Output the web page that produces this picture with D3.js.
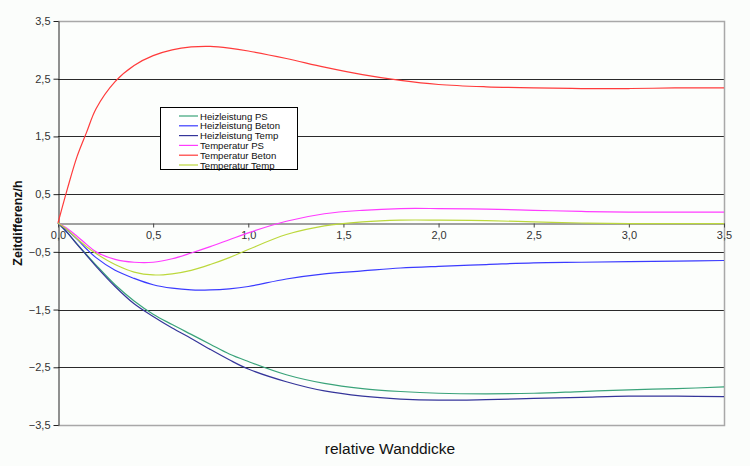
<!DOCTYPE html>
<html><head><meta charset="utf-8">
<script src="https://cdn.jsdelivr.net/npm/d3@7"></script>
<style>
html,body{margin:0;padding:0;background:#fbfdfb;}
svg{display:block;font-family:"Liberation Sans",Arial,sans-serif;}
</style></head>
<body>
<svg id="c" width="750" height="466"></svg>
<script>
const xValues = [0,0.05,0.1,0.15,0.2,0.3,0.4,0.5,0.6,0.7,0.8,0.9,1.0,1.2,1.4,1.6,1.8,2.0,2.25,2.5,2.75,3.0,3.25,3.5];
const heizPS    = [0,-0.17,-0.36,-0.55,-0.73,-1.07,-1.35,-1.58,-1.76,-1.93,-2.1,-2.27,-2.4,-2.63,-2.78,-2.87,-2.92,-2.95,-2.96,-2.95,-2.92,-2.89,-2.87,-2.84];
const heizBeton = [0,-0.13,-0.28,-0.45,-0.6,-0.82,-0.96,-1.07,-1.13,-1.16,-1.16,-1.14,-1.1,-0.97,-0.88,-0.83,-0.78,-0.75,-0.72,-0.69,-0.68,-0.67,-0.66,-0.65];
const heizTemp  = [0,-0.17,-0.37,-0.56,-0.75,-1.1,-1.4,-1.62,-1.82,-2.0,-2.19,-2.37,-2.53,-2.75,-2.91,-3.0,-3.05,-3.07,-3.06,-3.04,-3.02,-3.0,-3.0,-3.01];
const tempPS    = [0,-0.1,-0.23,-0.37,-0.5,-0.63,-0.68,-0.68,-0.62,-0.52,-0.41,-0.29,-0.17,0.03,0.16,0.22,0.25,0.25,0.24,0.22,0.2,0.19,0.19,0.19];
const tempBeton = [0,0.6,1.15,1.57,1.98,2.45,2.73,2.9,3.0,3.05,3.06,3.03,2.98,2.85,2.7,2.57,2.47,2.4,2.36,2.34,2.33,2.33,2.34,2.34];
const tempTemp  = [0,-0.12,-0.27,-0.41,-0.53,-0.72,-0.85,-0.9,-0.88,-0.82,-0.72,-0.6,-0.46,-0.2,-0.05,0.02,0.05,0.05,0.04,0.02,0.0,-0.01,-0.01,-0.01];
const seriesNames = ["Heizleistung PS","Heizleistung Beton","Heizleistung Temp","Temperatur PS","Temperatur Beton","Temperatur Temp"];
const seriesColors = ["#3aa37a","#3b3bff","#35359a","#ff3cff","#ff3b3b","#bcd83c"];
const seriesValues = [heizPS,heizBeton,heizTemp,tempPS,tempBeton,tempTemp];
const xTicks = [0,0.5,1.0,1.5,2.0,2.5,3.0,3.5];
const yTicks = [3.5,2.5,1.5,0.5,-0.5,-1.5,-2.5,-3.5];
const yGrid = [2.5,1.5,0.5,-0.5,-1.5,-2.5];
const xTitle = "relative Wanddicke";
const yTitle = "Zeitdifferenz/h";

const svg = d3.select("#c");
const L=58, R=724, T=21, B=425;
const x = d3.scaleLinear().domain([0,3.5]).range([L,R]);
const y = d3.scaleLinear().domain([-3.5,3.5]).range([B,T]);
const fmt = v => d3.format(".1f")(v).replace(".",",");

// plot frame
svg.append("rect").attr("x",L).attr("y",T).attr("width",R-L).attr("height",B-T).attr("fill","#fcfefc");
// gridlines
svg.append("g").selectAll("line").data(yGrid).join("line")
  .attr("x1",L).attr("x2",R).attr("y1",d=>Math.round(y(d))+0.5).attr("y2",d=>Math.round(y(d))+0.5)
  .attr("stroke","#2a2a2a").attr("stroke-width",1);
// gray frame top/right/bottom
svg.append("path").attr("d",`M${L},${T+0.5}H${R+0.5}V${B+0.5}H${L}`).attr("fill","none").attr("stroke","#a8a8a8").attr("stroke-width",1.5);

// y axis
const yAxis = d3.axisLeft(y).tickValues(yTicks).tickFormat(fmt).tickSize(5).tickSizeOuter(0);
const gy = svg.append("g").attr("transform",`translate(${L+0.5},0)`).call(yAxis);
gy.select(".domain").attr("stroke","#222");
gy.selectAll(".tick line").attr("stroke","#222");
gy.selectAll(".tick text").attr("font-size","11px").attr("fill","#333").attr("x",-8)
  .attr("font-family","'Liberation Sans',Arial,sans-serif");

// x axis at zero
const xAxis = d3.axisBottom(x).tickValues(xTicks).tickFormat(fmt).tickSize(4).tickSizeOuter(0);
const gx = svg.append("g").attr("transform",`translate(0,${Math.round(y(0))+0.5})`).call(xAxis);
gx.select(".domain").attr("stroke","#444");
gx.selectAll(".tick line").attr("stroke","#444");
gx.selectAll(".tick text").attr("font-size","11px").attr("fill","#333").attr("dy","0.9em").attr("y",6)
  .attr("font-family","'Liberation Sans',Arial,sans-serif");

// lines
const line = d3.line().x((d,i)=>x(xValues[i])).y(d=>y(d)).curve(d3.curveCatmullRom.alpha(0.5));
svg.append("g").selectAll("path").data(seriesValues).join("path")
  .attr("d",d=>line(d)).attr("fill","none")
  .attr("stroke",(d,i)=>seriesColors[i]).attr("stroke-width",1.2);

// legend
const lg = svg.append("g");
lg.append("rect").attr("x",160.5).attr("y",107.5).attr("width",137).attr("height",62)
  .attr("fill","#ffffff").attr("stroke","#000").attr("stroke-width",1);
seriesNames.forEach((n,i)=>{
  const yy = 116 + i*9.8;
  lg.append("line").attr("x1",179).attr("x2",198).attr("y1",yy).attr("y2",yy)
    .attr("stroke",seriesColors[i]).attr("stroke-width",1.2);
  lg.append("text").attr("x",200).attr("y",yy+3.5).attr("font-size","9.6px").attr("fill","#111").text(n);
});

// titles
svg.append("text").attr("x",390).attr("y",454).attr("text-anchor","middle")
  .attr("font-size","15.5px").attr("fill","#111").text(xTitle);
svg.append("text").attr("transform","translate(22,223) rotate(-90)").attr("text-anchor","middle")
  .attr("font-size","12.5px").attr("font-weight","bold").attr("fill","#111").text(yTitle);
</script>
</body></html>
